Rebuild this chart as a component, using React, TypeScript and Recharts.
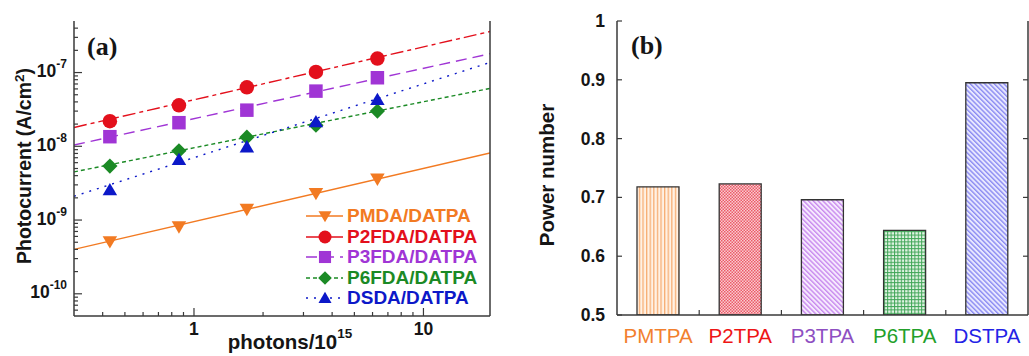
import React from 'react';
import {
  ComposedChart,
  Line,
  Scatter,
  XAxis,
  YAxis,
  Legend,
  BarChart,
  Bar,
  Cell,
} from 'recharts';

// ---------------- Panel (a) data ----------------
const X_PHOTONS = [0.43, 0.86, 1.7, 3.4, 6.3];
const PMDA_VALUES = [5.1e-10, 8.1e-10, 1.4e-9, 2.3e-9, 3.6e-9];
const P2FDA_VALUES = [2.19e-8, 3.6e-8, 6.3e-8, 1.02e-7, 1.55e-7];
const P3FDA_VALUES = [1.35e-8, 2.09e-8, 3.09e-8, 5.6e-8, 8.5e-8];
const P6FDA_VALUES = [5.4e-9, 8.7e-9, 1.33e-8, 1.93e-8, 3.0e-8];
const DSDA_VALUES = [2.57e-9, 6.6e-9, 9.8e-9, 2.14e-8, 4.3e-8];

// fitted power-law lines (values at the two ends of the x range)
const FIT_X = [0.3, 19.5];
const PMDA_FIT = [4.0e-10, 8.1e-9];
const P2FDA_FIT = [1.8e-8, 3.6e-7];
const P3FDA_FIT = [1.04e-8, 1.8e-7];
const P6FDA_FIT = [4.5e-9, 6.1e-8];
const DSDA_FIT = [2.1e-9, 1.37e-7];

const X_DOMAIN_A = [0.3, 19.5];
const Y_DOMAIN_A = [5e-11, 5e-7];
const X_TICKS_A = [0.4, 0.5, 0.6, 0.7, 0.8, 0.9, 1, 2, 3, 4, 5, 6, 7, 8, 9, 10];
const Y_TICKS_A = [
  6e-11, 7e-11, 8e-11, 9e-11,
  1e-10, 2e-10, 3e-10, 4e-10, 5e-10, 6e-10, 7e-10, 8e-10, 9e-10,
  1e-9, 2e-9, 3e-9, 4e-9, 5e-9, 6e-9, 7e-9, 8e-9, 9e-9,
  1e-8, 2e-8, 3e-8, 4e-8, 5e-8, 6e-8, 7e-8, 8e-8, 9e-8,
  1e-7, 2e-7, 3e-7, 4e-7,
];

const SERIES_NAMES = ['PMDA/DATPA', 'P2FDA/DATPA', 'P3FDA/DATPA', 'P6FDA/DATPA', 'DSDA/DATPA'];

// ---------------- Panel (b) data ----------------
const CATEGORIES = ['PMTPA', 'P2TPA', 'P3TPA', 'P6TPA', 'DSTPA'];
const POWER_NUMBER = [0.718, 0.723, 0.696, 0.644, 0.895];
const Y_TICKS_B = [0.5, 0.6, 0.7, 0.8, 0.9, 1];
const Y_TICKS_B_RIGHT = [0.6, 0.7, 0.8, 0.9];
const BOUNDARY_TICKS = [1, 2, 3, 4];

// ---------------- styles ----------------
const FONT = "'Liberation Sans', Arial, Helvetica, sans-serif";
const SERIF = "'Liberation Serif', 'Times New Roman', serif";
const AXIS = '#3a3a3a';
const TEXT = '#151515';

const STYLES = [
  { color: '#F27A22', dash: undefined as string | undefined, marker: 'tridown' },
  { color: '#E3101C', dash: '13 4 4 4', marker: 'circle' },
  { color: '#A035D5', dash: '11 6', marker: 'square' },
  { color: '#1B8A25', dash: '4 3', marker: 'diamond' },
  { color: '#0C18C8', dash: '2 6', marker: 'tri' },
];

const SERIES = [
  { name: SERIES_NAMES[0], values: PMDA_VALUES, fit: PMDA_FIT, ...STYLES[0] },
  { name: SERIES_NAMES[1], values: P2FDA_VALUES, fit: P2FDA_FIT, ...STYLES[1] },
  { name: SERIES_NAMES[2], values: P3FDA_VALUES, fit: P3FDA_FIT, ...STYLES[2] },
  { name: SERIES_NAMES[3], values: P6FDA_VALUES, fit: P6FDA_FIT, ...STYLES[3] },
  { name: SERIES_NAMES[4], values: DSDA_VALUES, fit: DSDA_FIT, ...STYLES[4] },
];

const CAT_COLORS = ['#F2802E', '#EE1515', '#8E4FC2', '#22A02A', '#2323E6'];
const PATTERN_IDS = ['pat-vert', 'pat-check', 'pat-diag-purple', 'pat-grid', 'pat-diag-blue'];

// ---------------- helpers ----------------
function Marker({ kind, cx, cy, color, s }: { kind: string; cx: number; cy: number; color: string; s: number }) {
  if (cx == null || cy == null || isNaN(cx) || isNaN(cy)) return null;
  const h = s / 2;
  switch (kind) {
    case 'circle':
      return <circle cx={cx} cy={cy} r={h} fill={color} />;
    case 'square':
      return <rect x={cx - h * 0.93} y={cy - h * 0.93} width={s * 0.93} height={s * 0.93} fill={color} />;
    case 'diamond':
      return (
        <polygon
          points={`${cx},${cy - h * 1.05} ${cx + h * 1.05},${cy} ${cx},${cy + h * 1.05} ${cx - h * 1.05},${cy}`}
          fill={color}
        />
      );
    case 'tri':
      return (
        <polygon
          points={`${cx},${cy - h * 0.95} ${cx + h},${cy + h * 0.75} ${cx - h},${cy + h * 0.75}`}
          fill={color}
        />
      );
    case 'tridown':
    default:
      return (
        <polygon
          points={`${cx},${cy + h * 0.95} ${cx + h},${cy - h * 0.75} ${cx - h},${cy - h * 0.75}`}
          fill={color}
        />
      );
  }
}

const isDecade = (v: number) => Math.abs(Math.log10(v) - Math.round(Math.log10(v))) < 1e-6;

const XTickA = (props: any) => {
  const { x, y, payload } = props;
  const v = payload.value;
  const major = isDecade(v);
  return (
    <g>
      <line x1={x} y1={y} x2={x} y2={y - (major ? 8 : 4)} stroke={AXIS} strokeWidth={1.2} />
      {major && (
        <text x={x} y={y + 19} textAnchor="middle" fontFamily={FONT} fontWeight="bold" fontSize={17.5} fill={TEXT}>
          {String(v)}
        </text>
      )}
    </g>
  );
};

const YTickA = (props: any) => {
  const { x, y, payload } = props;
  const v = payload.value;
  const major = isDecade(v);
  const e = Math.round(Math.log10(v));
  return (
    <g>
      <line x1={x} y1={y} x2={x + (major ? 8 : 4)} y2={y} stroke={AXIS} strokeWidth={1.2} />
      {major && (
        <text x={x - 7} y={y + 4.5} textAnchor="end" fontFamily={FONT} fontWeight="bold" fontSize={17.5} fill={TEXT}>
          10
          <tspan dy={-9} fontSize={12}>
            {String(e)}
          </tspan>
        </text>
      )}
    </g>
  );
};

const renderLegendA = () => (
  <div style={{ fontFamily: FONT, fontWeight: 'bold', fontSize: 19 }}>
    {SERIES.map((s) => (
      <div key={s.name} style={{ display: 'flex', alignItems: 'center', height: 20.5, whiteSpace: 'nowrap' }}>
        <svg width={41} height={20} style={{ display: 'block' }}>
          <line x1={0} y1={10} x2={37} y2={10} stroke={s.color} strokeWidth={1.4} strokeDasharray={s.dash} />
          <Marker kind={s.marker} cx={19} cy={10} color={s.color} s={13} />
        </svg>
        <span style={{ color: s.color, lineHeight: '20.5px' }}>{s.name}</span>
      </div>
    ))}
  </div>
);

function ChartA() {
  const axisLine = { stroke: AXIS, strokeWidth: 1.5 };
  return (
    <ComposedChart width={500} height={356} margin={{ top: 21, right: 9, bottom: 0, left: 0 }}>
      <XAxis
        xAxisId="b"
        dataKey="x"
        type="number"
        scale="log"
        domain={X_DOMAIN_A}
        allowDataOverflow
        ticks={X_TICKS_A}
        interval={0}
        tick={XTickA}
        tickLine={false}
        tickSize={0}
        tickMargin={0}
        height={40}
        axisLine={axisLine}
      />
      <XAxis
        xAxisId="t"
        orientation="top"
        type="number"
        scale="log"
        domain={X_DOMAIN_A}
        allowDataOverflow
        tick={false}
        tickLine={false}
        height={0}
        axisLine={axisLine}
      />
      <YAxis
        yAxisId="l"
        dataKey="y"
        type="number"
        scale="log"
        domain={Y_DOMAIN_A}
        allowDataOverflow
        ticks={Y_TICKS_A}
        interval={0}
        tick={YTickA}
        tickLine={false}
        tickSize={0}
        tickMargin={0}
        width={74}
        axisLine={axisLine}
      />
      <YAxis
        yAxisId="r"
        orientation="right"
        type="number"
        scale="log"
        domain={Y_DOMAIN_A}
        allowDataOverflow
        tick={false}
        tickLine={false}
        width={1}
        axisLine={axisLine}
      />
      {SERIES.map((s) => (
        <Line
          key={'fit-' + s.name}
          xAxisId="b"
          yAxisId="l"
          data={FIT_X.map((x, i) => ({ x, y: s.fit[i] }))}
          dataKey="y"
          type="linear"
          stroke={s.color}
          strokeWidth={1.4}
          strokeDasharray={s.dash}
          dot={false}
          activeDot={false}
          legendType="none"
          isAnimationActive={false}
        />
      ))}
      {SERIES.map((s) => (
        <Scatter
          key={'pts-' + s.name}
          name={s.name}
          xAxisId="b"
          yAxisId="l"
          data={X_PHOTONS.map((x, i) => ({ x, y: s.values[i] }))}
          dataKey="y"
          fill={s.color}
          shape={(p: any) => <Marker kind={s.marker} cx={p.cx} cy={p.cy} color={s.color} s={14.5} />}
          isAnimationActive={false}
        />
      ))}
      <Legend
        layout="vertical"
        align="center"
        verticalAlign="middle"
        content={renderLegendA}
        wrapperStyle={{ left: 306, top: 206, width: 'auto', height: 'auto' }}
      />
      <text x={87} y={55} fontFamily={SERIF} fontWeight="bold" fontSize={26} fill={TEXT}>
        (a)
      </text>
      <text
        transform="translate(31,166) rotate(-90)"
        textAnchor="middle"
        fontFamily={FONT}
        fontWeight="bold"
        fontSize={19.5}
        fill={TEXT}
      >
        Photocurrent (A/cm
        <tspan dy={-7} fontSize={13.5}>
          2
        </tspan>
        <tspan dy={7}>)</tspan>
      </text>
      <text x={290} y={349} textAnchor="middle" fontFamily={FONT} fontWeight="bold" fontSize={20.5} fill={TEXT}>
        photons/10
        <tspan dy={-11} fontSize={13.5}>
          15
        </tspan>
      </text>
    </ComposedChart>
  );
}

// ---------------- Panel (b) ----------------
const B_WIDTH = 509;
const B_LEFT_AXIS = 97;
const B_RIGHT_AXIS = 1;
const B_BAND = (B_WIDTH - B_LEFT_AXIS - B_RIGHT_AXIS) / CATEGORIES.length;

const CatTick = (props: any) => {
  const { x, y, payload, index } = props;
  const i = typeof index === 'number' ? index : CATEGORIES.indexOf(payload.value);
  return (
    <g>
      {i < CATEGORIES.length - 1 && (
        <line x1={x + B_BAND / 2} y1={y} x2={x + B_BAND / 2} y2={y - 5} stroke={AXIS} strokeWidth={1.2} />
      )}
      <text x={x} y={y + 28} textAnchor="middle" fontFamily={FONT} fontSize={20.5} fill={CAT_COLORS[i]}>
        {payload.value}
      </text>
    </g>
  );
};

const TopTickB = (props: any) => {
  const { x, y } = props;
  return <line x1={x} y1={y} x2={x} y2={y + 5} stroke={AXIS} strokeWidth={1.2} />;
};

const YTickB = (props: any) => {
  const { x, y, payload } = props;
  return (
    <g>
      <line x1={x} y1={y} x2={x + 5} y2={y} stroke={AXIS} strokeWidth={1.2} />
      <text x={x - 12} y={y + 6} textAnchor="end" fontFamily={FONT} fontWeight="bold" fontSize={17.5} fill={TEXT}>
        {String(payload.value)}
      </text>
    </g>
  );
};

const RightTickB = (props: any) => {
  const { x, y } = props;
  return <line x1={x} y1={y} x2={x - 5} y2={y} stroke={AXIS} strokeWidth={1.2} />;
};

const BAR_DATA = CATEGORIES.map((name, i) => ({ name, value: POWER_NUMBER[i] }));

function ChartB() {
  const axisLine = { stroke: AXIS, strokeWidth: 1.5 };
  return (
    <BarChart width={B_WIDTH} height={356} data={BAR_DATA} margin={{ top: 21, right: 0, bottom: 0, left: 0 }} barSize={42}>
      <defs>
        <pattern id="pat-vert" width={3.6} height={6} patternUnits="userSpaceOnUse">
          <rect width={3.6} height={6} fill="#FFF1E4" />
          <rect x={0} width={1.3} height={6} fill="#F7AE74" />
        </pattern>
        <pattern id="pat-check" width={3} height={3} patternUnits="userSpaceOnUse">
          <rect width={3} height={3} fill="#F9CCD0" />
          <rect width={1.5} height={1.5} fill="#EC5A68" />
          <rect x={1.5} y={1.5} width={1.5} height={1.5} fill="#EC5A68" />
        </pattern>
        <pattern id="pat-diag-purple" width={3.4} height={3.4} patternUnits="userSpaceOnUse" patternTransform="rotate(-45)">
          <rect width={3.4} height={3.4} fill="#F6EAFE" />
          <rect width={1.4} height={3.4} fill="#C88AEE" />
        </pattern>
        <pattern id="pat-grid" width={3.4} height={3.4} patternUnits="userSpaceOnUse">
          <rect width={3.4} height={3.4} fill="#E2F3E4" />
          <rect width={3.4} height={1} fill="#3FA556" />
          <rect width={1} height={3.4} fill="#3FA556" />
        </pattern>
        <pattern id="pat-diag-blue" width={3.4} height={3.4} patternUnits="userSpaceOnUse" patternTransform="rotate(-45)">
          <rect width={3.4} height={3.4} fill="#E8E8FF" />
          <rect width={1.4} height={3.4} fill="#8A8AF2" />
        </pattern>
      </defs>
      <XAxis
        xAxisId="cat"
        dataKey="name"
        type="category"
        interval={0}
        tick={CatTick}
        tickLine={false}
        tickSize={0}
        tickMargin={0}
        height={41}
        axisLine={axisLine}
      />
      <XAxis
        xAxisId="top"
        orientation="top"
        type="number"
        domain={[0, CATEGORIES.length]}
        allowDataOverflow
        ticks={BOUNDARY_TICKS}
        interval={0}
        tick={TopTickB}
        tickLine={false}
        tickSize={0}
        tickMargin={0}
        height={0}
        axisLine={axisLine}
      />
      <YAxis
        yAxisId="l"
        type="number"
        domain={[0.5, 1]}
        allowDataOverflow
        ticks={Y_TICKS_B}
        interval={0}
        tick={YTickB}
        tickLine={false}
        tickSize={0}
        tickMargin={0}
        width={B_LEFT_AXIS}
        axisLine={axisLine}
      />
      <YAxis
        yAxisId="r"
        orientation="right"
        type="number"
        domain={[0.5, 1]}
        allowDataOverflow
        ticks={Y_TICKS_B_RIGHT}
        interval={0}
        tick={RightTickB}
        tickLine={false}
        tickSize={0}
        tickMargin={0}
        width={B_RIGHT_AXIS}
        axisLine={axisLine}
      />
      <Bar xAxisId="cat" yAxisId="l" dataKey="value" stroke="#333" strokeWidth={1.3} isAnimationActive={false}>
        {BAR_DATA.map((d, i) => (
          <Cell key={d.name} fill={`url(#${PATTERN_IDS[i]})`} />
        ))}
      </Bar>
      <text x={111} y={54} fontFamily={SERIF} fontWeight="bold" fontSize={26} fill={TEXT}>
        (b)
      </text>
      <text
        transform="translate(34,175) rotate(-90)"
        textAnchor="middle"
        fontFamily={FONT}
        fontWeight="bold"
        fontSize={20.5}
        fill={TEXT}
      >
        Power number
      </text>
    </BarChart>
  );
}

export default function App() {
  return (
    <div
      style={{
        position: 'absolute',
        left: 0,
        top: 0,
        width: 1029,
        height: 356,
        background: '#ffffff',
        overflow: 'hidden',
      }}
    >
      <div style={{ position: 'absolute', left: 0, top: 0 }}>
        <ChartA />
      </div>
      <div style={{ position: 'absolute', left: 520, top: 0 }}>
        <ChartB />
      </div>
    </div>
  );
}
